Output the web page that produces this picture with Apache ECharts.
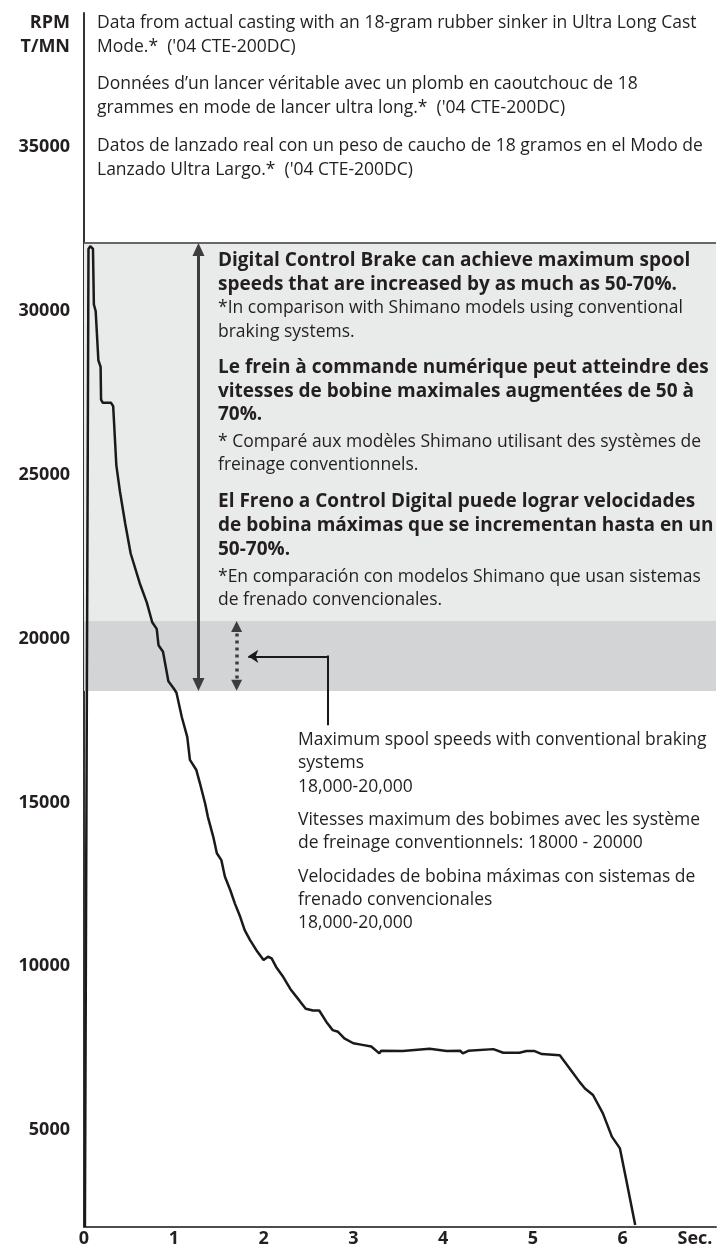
<!DOCTYPE html>
<html>
<head>
<meta charset="utf-8">
<title>Spool speed</title>
<script src="https://cdn.jsdelivr.net/npm/echarts@6/dist/echarts.min.js"></script>
<style>html,body{margin:0;padding:0;background:#fff;}</style>
</head>
<body>
<div id="main" style="width:723px;height:1249px;"></div>
<script>
// casting curve (seconds / rpm)
var seconds = [0.01,0.05,0.07,0.10,0.11,0.13,0.16,0.185,0.19,0.21,0.30,0.325,0.36,0.40,0.46,0.52,0.62,0.70,0.76,0.81,0.83,0.88,0.94,1.00,1.03,1.09,1.15,1.18,1.25,1.29,1.35,1.38,1.44,1.48,1.53,1.57,1.63,1.68,1.74,1.79,1.85,1.92,2.00,2.05,2.09,2.14,2.22,2.30,2.40,2.47,2.55,2.62,2.70,2.77,2.83,2.90,3.00,3.10,3.20,3.29,3.31,3.55,3.85,4.04,4.19,4.22,4.28,4.56,4.67,4.85,4.93,5.02,5.10,5.30,5.41,5.52,5.58,5.67,5.78,5.88,5.97,6.04,6.14];
var rpm = [2040,31900,31980,31900,30200,30000,28500,28300,27300,27200,27200,27100,25300,24500,23500,22600,21700,21100,20500,20300,19800,19600,18700,18480,18350,17600,17000,16300,16000,15600,14960,14560,13950,13450,13240,12730,12320,11920,11510,11100,10800,10490,10190,10290,10240,9980,9670,9300,8950,8700,8650,8650,8300,8050,8000,7800,7650,7600,7550,7340,7420,7410,7480,7410,7420,7340,7420,7470,7360,7360,7410,7410,7320,7280,6880,6470,6270,6070,5510,4800,4440,3480,2100];

var xTicks = [0, 1, 2, 3, 4, 5, 6];
var yTicks = [5000, 10000, 15000, 20000, 25000, 30000, 35000];

// shaded ranges (rpm)
var dcbRange = [20540, 32100];          // digital control brake
var conventionalRange = [18400, 20540]; // conventional brakes

var topNotes = [
    'Data from actual casting with an 18-gram rubber sinker in Ultra Long Cast',
    "Mode.*  ('04 CTE-200DC)",
    'Donn\u00e9es d\u2019un lancer v\u00e9ritable avec un plomb en caoutchouc de 18',
    "grammes en mode de lancer ultra long.*  ('04 CTE-200DC)",
    'Datos de lanzado real con un peso de caucho de 18 gramos en el Modo de',
    "Lanzado Ultra Largo.*  ('04 CTE-200DC)"
];
var dcbNotes = [
    ['Digital Control Brake can achieve maximum spool', true],
    ['speeds that are increased by as much as 50-70%.', true],
    ['*In comparison with Shimano models using conventional', false],
    ['braking systems.', false],
    ['Le frein \u00e0 commande num\u00e9rique peut atteindre des', true],
    ['vitesses de bobine maximales augment\u00e9es de 50 \u00e0', true],
    ['70%.', true],
    ['* Compar\u00e9 aux mod\u00e8les Shimano utilisant des syst\u00e8mes de', false],
    ['freinage conventionnels.', false],
    ['El Freno a Control Digital puede lograr velocidades', true],
    ['de bobina m\u00e1ximas que se incrementan hasta en un', true],
    ['50-70%.', true],
    ['*En comparaci\u00f3n con modelos Shimano que usan sistemas', false],
    ['de frenado convencionales.', false]
];
var conventionalNotes = [
    'Maximum spool speeds with conventional braking',
    'systems',
    '18,000-20,000',
    'Vitesses maximum des bobimes avec les syst\u00e8me',
    'de freinage conventionnels: 18000 - 20000',
    'Velocidades de bobina m\u00e1ximas con sistemas de',
    'frenado convencionales',
    '18,000-20,000'
];

var ink = '#231f20';
var font = 'Open Sans';

var points = seconds.map(function (s, i) { return [s, rpm[i]]; });

// line positions of the note blocks
var topY = [23, 47, 84, 108, 146, 170];
var dcbY = [261, 285, 308, 332, 368, 392, 415, 442, 465, 502, 526, 550, 577, 600];
var convY = [740, 763, 787, 820, 843, 877, 900, 923];

function note(str, x, y, bold, size, align) {
    return {
        type: 'text', x: x, y: y, z: 10, silent: true,
        style: {
            text: str, fill: ink, fontFamily: font,
            fontSize: size, fontWeight: bold ? 'bold' : 'normal',
            align: align || 'left', verticalAlign: 'middle'
        }
    };
}

var graphics = [
    note('RPM', 70, 23, true, 18, 'right'),
    note('T/MN', 70, 47, true, 18, 'right'),
    note('Sec.', 695, 1239, true, 18, 'center')
];
topNotes.forEach(function (t, i) { graphics.push(note(t, 97, topY[i], false, 17.5)); });
dcbNotes.forEach(function (t, i) { graphics.push(note(t[0], 218, dcbY[i], t[1], t[1] ? 19 : 17.5)); });
conventionalNotes.forEach(function (t, i) { graphics.push(note(t, 298, convY[i], false, 17.5)); });

var myChart = echarts.init(document.getElementById('main'));

var option = {
    animation: false,
    backgroundColor: '#fff',
    grid: { left: 84, right: 7, top: 13, bottom: 22, outerBoundsMode: 'none' },
    xAxis: {
        type: 'value', min: 0, max: 7.04,
        axisLine: { lineStyle: { color: '#4d4d4d', width: 2 } },
        axisTick: { show: false },
        splitLine: { show: false },
        axisLabel: {
            customValues: xTicks, margin: 3,
            color: ink, fontFamily: font, fontSize: 18, fontWeight: 'bold'
        }
    },
    yAxis: {
        type: 'value', min: 2040, max: 39100,
        axisLine: { show: true, lineStyle: { color: '#333', width: 2 } },
        axisTick: { show: false },
        splitLine: { show: false },
        axisLabel: {
            customValues: yTicks, margin: 14,
            formatter: function (v) { return String(v); },  // no thousands comma
            color: ink, fontFamily: font, fontSize: 18, fontWeight: 'bold'
        }
    },
    graphic: graphics,
    series: [{
        type: 'line',
        data: points,
        symbol: 'none',
        lineStyle: { color: '#1a1a1a', width: 2.5 },
        markArea: {
            silent: true,
            data: [
                [{ yAxis: dcbRange[1], itemStyle: { color: '#e9eaea' } }, { yAxis: dcbRange[0] }],
                [{ yAxis: conventionalRange[1], itemStyle: { color: '#d3d4d6' } }, { yAxis: conventionalRange[0] }]
            ]
        },
        markLine: {
            silent: true,
            symbol: ['none', 'none'],
            label: { show: false },
            data: [
                { yAxis: dcbRange[1], lineStyle: { color: '#3a3a3a', width: 1.5, type: 'solid' } },
                // big double arrow
                [{ coord: [1.275, 31880], symbol: 'triangle', symbolSize: [12, 13],
                   lineStyle: { color: '#3d3d3d', width: 3, type: 'solid' } },
                 { coord: [1.275, 18600], symbol: 'triangle', symbolSize: [12, 13] }],
                // dotted double arrow
                [{ coord: [1.70, 20370], symbol: 'triangle', symbolSize: [11, 11],
                   lineStyle: { color: '#3d3d3d', width: 3.5, type: [3, 4] } },
                 { coord: [1.70, 18580], symbol: 'triangle', symbolSize: [11, 11] }],
                // connector
                [{ coord: [1.83, 19460], symbol: 'arrow', symbolSize: [10, 10],
                   lineStyle: { color: '#1a1a1a', width: 2, type: 'solid' } },
                 { coord: [2.72, 19460], symbol: 'none' }],
                [{ coord: [2.72, 19490], symbol: 'none',
                   lineStyle: { color: '#1a1a1a', width: 2, type: 'solid' } },
                 { coord: [2.72, 17355], symbol: 'none' }]
            ]
        }
    }]
};

myChart.setOption(option);
</script>
</body>
</html>
